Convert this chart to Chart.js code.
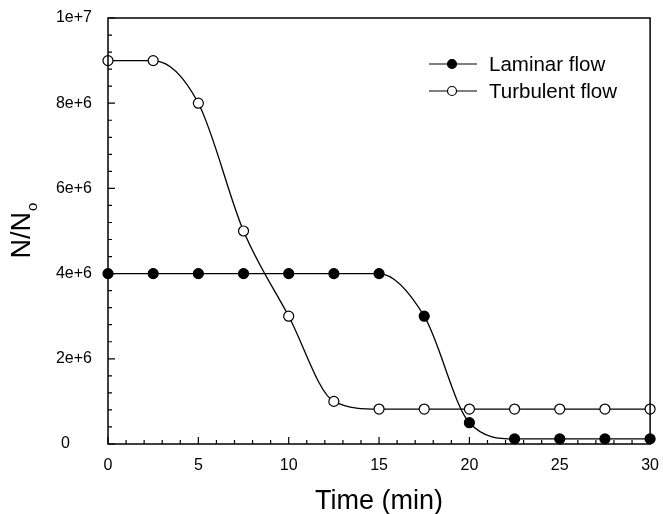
<!DOCTYPE html>
<html><head><meta charset="utf-8">
<script src="https://cdn.jsdelivr.net/npm/chart.js@4"></script>
<style>html,body{margin:0;padding:0;background:#fff}#wrap{width:663px;height:514px}</style>
</head><body><div id="wrap"><canvas id="c" width="663" height="514"></canvas></div>
<script>
const times = [0, 2.5, 5, 7.5, 10, 12.5, 15, 17.5, 20, 22.5, 25, 27.5, 30];
const laminar = [4e6, 4e6, 4e6, 4e6, 4e6, 4e6, 4e6, 3e6, 5e5, 1.2e5, 1.2e5, 1.2e5, 1.2e5];
const turbulent = [9e6, 9e6, 8e6, 5e6, 3e6, 1e6, 8.2e5, 8.2e5, 8.2e5, 8.2e5, 8.2e5, 8.2e5, 8.2e5];
const seriesNames = ["Laminar flow", "Turbulent flow"];
const xTicks = [0, 5, 10, 15, 20, 25, 30];
const yTicks = [0, 2e6, 4e6, 6e6, 8e6, 1e7];
const yTickLabels = ["0", "2e+6", "4e+6", "6e+6", "8e+6", "1e+7"];
const xMinorStep = 1, yMinorStep = 4e5;

const FONT = "'Liberation Sans', Arial, 'DejaVu Sans', sans-serif";
const L = 108, R = 652, T = 18, B = 444;

const framePlugin = {
  id: 'frame',
  afterDraw(chart) {
    const ctx = chart.ctx, xs = chart.scales.x, ys = chart.scales.y, a = chart.chartArea;
    ctx.save();
    ctx.strokeStyle = '#000'; ctx.lineWidth = 1.5;
    ctx.strokeRect(a.left, a.top, a.right - a.left, a.bottom - a.top);
    ctx.lineWidth = 1.2;
    ctx.beginPath();
    for (let v = xs.min; v <= xs.max + 1e-9; v += xMinorStep) {
      const px = xs.getPixelForValue(v);
      const major = xTicks.includes(v);
      ctx.moveTo(px, a.bottom); ctx.lineTo(px, a.bottom - (major ? 7 : 4));
    }
    for (let v = ys.min; v <= ys.max + 1; v += yMinorStep) {
      const py = ys.getPixelForValue(v);
      const major = yTicks.some(t => Math.abs(t - v) < 1);
      ctx.moveTo(a.left, py); ctx.lineTo(a.left + (major ? 7 : 4), py);
    }
    ctx.stroke();
    // legend
    const lx0 = 429, lx1 = 477, mx = 452;
    const rows = [{y: 64, fill: '#000'}, {y: 91, fill: '#fff'}];
    ctx.font = "20.5px " + FONT; ctx.textBaseline = 'middle'; ctx.fillStyle = '#000';
    rows.forEach((r, i) => {
      ctx.beginPath(); ctx.lineWidth = 1.2; ctx.strokeStyle = '#000';
      ctx.moveTo(lx0, r.y); ctx.lineTo(lx1, r.y); ctx.stroke();
      ctx.beginPath(); ctx.arc(mx, r.y, 4.5, 0, Math.PI * 2);
      ctx.fillStyle = r.fill; ctx.fill(); ctx.lineWidth = 1.2; ctx.stroke();
      ctx.fillStyle = '#000';
      ctx.fillText(seriesNames[i], 489, r.y + 1);
    });
    // y title with subscript
    ctx.save();
    ctx.translate(21, 231); ctx.rotate(-Math.PI / 2);
    ctx.textBaseline = 'alphabetic';
    const main = "N/N";
    ctx.font = "27px " + FONT;
    const w1 = ctx.measureText(main).width;
    ctx.font = "15px " + FONT;
    const w2 = ctx.measureText("o").width;
    const start = -(w1 + w2) / 2;
    ctx.font = "27px " + FONT; ctx.textAlign = 'left';
    ctx.fillText(main, start, 9);
    ctx.font = "15px " + FONT;
    ctx.fillText("o", start + w1 + 1, 16);
    ctx.restore();
    ctx.restore();
  }
};

const common = { borderColor: '#000', borderWidth: 1.3, pointRadius: 5, pointHoverRadius: 5,
  pointBorderColor: '#000', pointBorderWidth: 1.2, cubicInterpolationMode: 'monotone', clip: false };

new Chart(document.getElementById('c'), {
  type: 'line',
  data: {
    datasets: [
      Object.assign({ label: seriesNames[0], data: times.map((t, i) => ({x: t, y: laminar[i]})),
        pointBackgroundColor: '#000' }, common),
      Object.assign({ label: seriesNames[1], data: times.map((t, i) => ({x: t, y: turbulent[i]})),
        pointBackgroundColor: '#fff' }, common)
    ]
  },
  options: {
    responsive: false, animation: false,
    layout: { padding: { top: T, right: 663 - R, left: 0, bottom: 0 } },
    plugins: { legend: { display: false }, tooltip: { enabled: false } },
    scales: {
      x: {
        type: 'linear', min: 0, max: 30,
        grid: { display: false }, border: { display: false },
        afterBuildTicks: s => { s.ticks = xTicks.map(v => ({value: v})); },
        ticks: { color: '#000', font: { family: FONT, size: 16 }, padding: 4, maxRotation: 0,
          callback: v => String(v) },
        title: { display: true, text: 'Time (min)', color: '#000', font: { family: FONT, size: 27 }, padding: { top: 4, bottom: -4 } },
        afterFit: s => { s.height = 514 - B; }
      },
      y: {
        type: 'linear', min: 0, max: 1e7,
        grid: { display: false }, border: { display: false },
        afterBuildTicks: s => { s.ticks = yTicks.map(v => ({value: v})); },
        ticks: { color: '#000', font: { family: FONT, size: 16 }, padding: 8,
          callback: v => { const t = yTickLabels[yTicks.indexOf(v)]; return v === 0 ? t + '     ' : t; } },
        afterFit: s => { s.width = L; }
      }
    }
  },
  plugins: [framePlugin]
});
</script></body></html>
